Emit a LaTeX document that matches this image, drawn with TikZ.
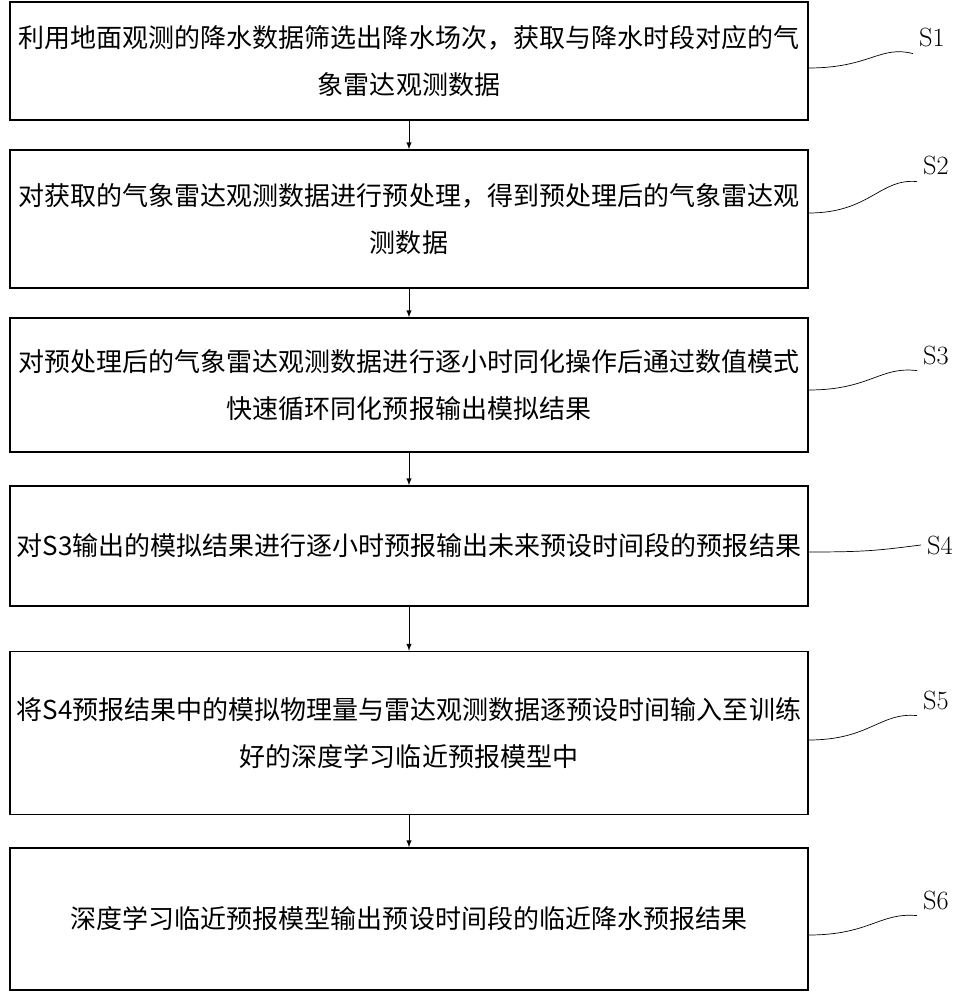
\documentclass[tikz,border=0pt]{standalone}
\usepackage{fontspec}
\newfontfamily\cjk{Noto Sans CJK SC}
\usetikzlibrary{positioning,arrows,calc}
\tikzset{
    x=0.02cm,
    y=-0.02cm,
    step box/.style = {
        draw,
        shape=rectangle,
        minimum width=15.96cm,
        inner xsep=2pt,
        text width=15.8cm,
        align=center,
        line width=0.8pt,
        font=\cjk\fontsize{14.8}{27}\selectfont
    },
    steplabel/.style = {
        font=\fontsize{15}{18}\selectfont
    },
    >=latex,
}
\begin{document}
\begin{tikzpicture}
        \useasboundingbox (0,0) rectangle (958,1000);
        \node[step box, minimum height=2.36cm] (s1) at (409,61) {利用地面观测的降水数据筛选出降水场次，获取与降水时段对应的气\\象雷达观测数据};
        \node[step box, minimum height=2.76cm] (s2) at (409,219) {对获取的气象雷达观测数据进行预处理，得到预处理后的气象雷达观\\测数据};
        \node[step box, minimum height=2.68cm] (s3) at (409,385) {对预处理后的气象雷达观测数据进行逐小时同化操作后通过数值模式\\快速循环同化预报输出模拟结果};
        \node[step box, minimum height=2.40cm] (s4) at (409,546) {对S3输出的模拟结果进行逐小时预报输出未来预设时间段的预报结果};
        \node[step box, minimum height=3.26cm] (s5) at (409,733) {将S4预报结果中的模拟物理量与雷达观测数据逐预设时间输入至训练\\好的深度学习临近预报模型中};
        \node[step box, minimum height=2.84cm] (s6) at (409,919) {深度学习临近预报模型输出预设时间段的临近降水预报结果};

        \node[steplabel] (l1) at (932,38) {S1};
        \node[steplabel] (l2) at (936,166) {S2};
        \node[steplabel] (l3) at (936,355) {S3};
        \node[steplabel] (l4) at (940,545) {S4};
        \node[steplabel] (l5) at (936,700) {S5};
        \node[steplabel] (l6) at (936,900) {S6};

        \path[draw, ->] (s1) -- (s2);
        \path[draw, ->] (s2) -- (s3);
        \path[draw, ->] (s3) -- (s4);
        \path[draw, ->] (s4) -- (s5);
        \path[draw, ->] (s5) -- (s6);

        % curved leaders
        \draw (s1.east |- 0,68) .. controls (870,68) and (880,45) .. (l1.south west);
        \draw (s2.east |- 0,213) .. controls (870,213) and (880,178) .. (l2.south west);
        \draw (s3.east |- 0,390) .. controls (870,390) and (880,366) .. (l3.south west);
        \draw (s4.east |- 0,552) .. controls (870,552) and (880,550) .. (l4.west);
        \draw (s5.east |- 0,740) .. controls (870,740) and (880,712) .. (l5.south west);
        \draw (s6.east |- 0,935) .. controls (870,935) and (880,912) .. (l6.south west);
\end{tikzpicture}
\end{document}
